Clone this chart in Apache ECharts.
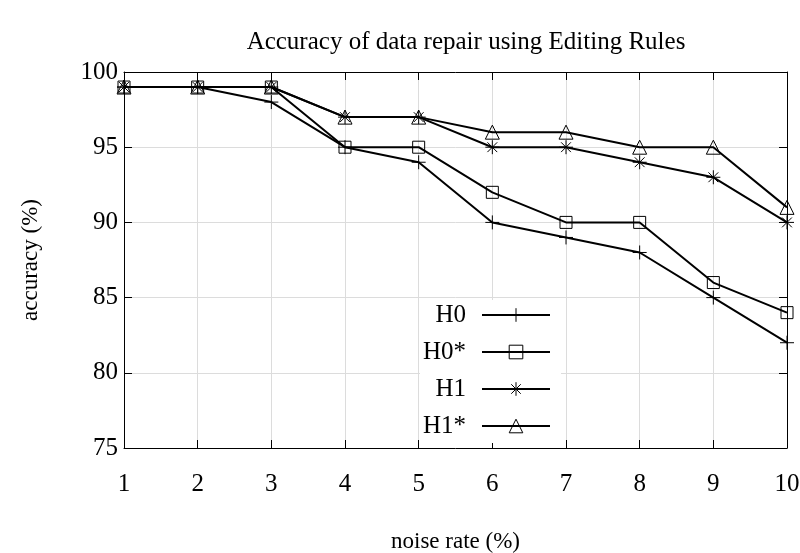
<!DOCTYPE html>
<html><head><meta charset="utf-8">
<script src="https://cdn.jsdelivr.net/npm/echarts@6/dist/echarts.min.js"></script>
<style>html,body{margin:0;padding:0;background:#fff}#c{width:800px;height:553px}</style>
</head><body><div id="c"></div>
<script>
var noiseRates = [1, 2, 3, 4, 5, 6, 7, 8, 9, 10];
var H0     = [99, 99, 98, 95, 94, 90, 89, 88, 85, 82];
var H0star = [99, 99, 99, 95, 95, 92, 90, 90, 86, 84];
var H1     = [99, 99, 99, 97, 97, 95, 95, 94, 93, 90];
var H1star = [99, 99, 99, 97, 97, 96, 96, 95, 95, 91];
var seriesNames = ['H0', 'H0*', 'H1', 'H1*'];

var F = 'Liberation Serif, Times New Roman, serif';
var plus = 'path://M0,5L10,5M5,0L5,10';
var star = 'path://M0,5L10,5M5,0L5,10M1.5,1.5L8.5,8.5M8.5,1.5L1.5,8.5';
function pts(arr){ return noiseRates.map(function(x,i){return [x, arr[i]];}); }
function mk(name, arr, sym, size){
  return {name:name, type:'line', data:pts(arr), symbol:sym, symbolSize:size,
    showAllSymbol:true, animation:false,
    lineStyle:{color:'#000', width:2},
    itemStyle:{color:'rgba(0,0,0,0)', borderColor:'#000', borderWidth:1},
    emphasis:{disabled:true}};
}
var chart = echarts.init(document.getElementById('c'), null, {renderer:'canvas'});
chart.setOption({
  backgroundColor:'#fff',
  animation:false,
  title:{text:'Accuracy of data repair using Editing Rules', left:461, textAlign:'center', top:25,
    textStyle:{fontFamily:F, fontSize:25, fontWeight:'normal', color:'#000'}},
  grid:{left:124, right:13, top:72, bottom:105, containLabel:false, outerBoundsMode:'none'},
  legend:{orient:'vertical', left:420, top:300, itemWidth:68, itemHeight:17, itemGap:11,
    align:'right', backgroundColor:'#fff', padding:[2,10,4,0],
    data:seriesNames,
    itemStyle:{color:'rgba(0,0,0,0)', borderColor:'#000', borderWidth:1},
    lineStyle:{color:'#000', width:2},
    textStyle:{fontFamily:F, fontSize:25, lineHeight:26, color:'#000', width:46, align:'right', padding:[0,11,0,0]}},
  xAxis:[
    {type:'value', min:1, max:10, interval:1, position:'bottom',
     name:'noise rate (%)', nameLocation:'middle', nameGap:82,
     nameTextStyle:{fontFamily:F, fontSize:23, color:'#000'},
     axisLine:{onZero:false, lineStyle:{color:'#000', width:1}},
     axisTick:{inside:true, length:8, lineStyle:{color:'#000'}},
     axisLabel:{fontFamily:F, fontSize:25, color:'#000', margin:24},
     splitLine:{show:true, lineStyle:{color:'#dcdcdc', width:1}}},
    {type:'value', min:1, max:10, interval:1, position:'top',
     axisLine:{onZero:false, lineStyle:{color:'#000', width:1}},
     axisTick:{inside:true, length:8, lineStyle:{color:'#000'}},
     axisLabel:{show:false}, splitLine:{show:false}}
  ],
  yAxis:[
    {type:'value', min:75, max:100, interval:5, position:'left',
     name:'accuracy (%)', nameLocation:'middle', nameGap:82, nameRotate:90,
     nameTextStyle:{fontFamily:F, fontSize:23, color:'#000'},
     axisLine:{show:true, onZero:false, lineStyle:{color:'#000', width:1}},
     axisTick:{show:true, inside:true, length:8, lineStyle:{color:'#000'}},
     axisLabel:{fontFamily:F, fontSize:25, color:'#000', margin:6},
     splitLine:{show:true, lineStyle:{color:'#dcdcdc', width:1}}},
    {type:'value', min:75, max:100, interval:5, position:'right',
     axisLine:{show:true, onZero:false, lineStyle:{color:'#000', width:1}},
     axisTick:{show:true, inside:true, length:8, lineStyle:{color:'#000'}},
     axisLabel:{show:false}, splitLine:{show:false}}
  ],
  series:[
    mk('H0', H0, plus, 14),
    mk('H0*', H0star, 'rect', 12),
    mk('H1', H1, star, 14),
    mk('H1*', H1star, 'triangle', 14)
  ]
});
</script></body></html>
